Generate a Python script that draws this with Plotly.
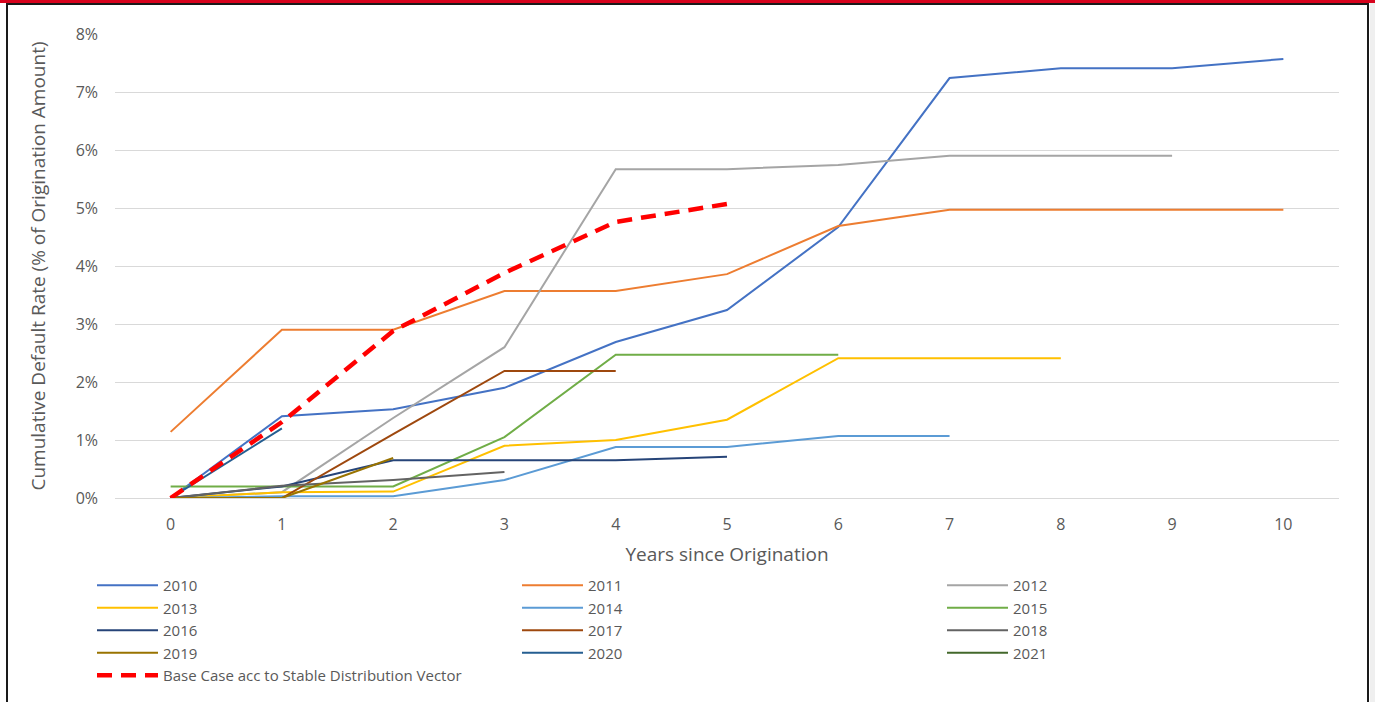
import plotly.graph_objects as go

# Years since origination (category positions on the x axis)
years = list(range(11))

# Cumulative default rates per origination vintage (fraction of origination amount)
vintage_2010 = [0.0000, 0.0141, 0.0153, 0.0190, 0.0269, 0.0324, 0.0467, 0.0724, 0.0741, 0.0741, 0.0757]
vintage_2011 = [0.0114, 0.0290, 0.0290, 0.0357, 0.0357, 0.0386, 0.0469, 0.0497, 0.0497, 0.0497, 0.0497]
vintage_2012 = [0.0000, 0.0010, 0.0138, 0.0260, 0.0567, 0.0567, 0.0574, 0.0590, 0.0590, 0.0590]
vintage_2013 = [0.0000, 0.0010, 0.0011, 0.0090, 0.0100, 0.0135, 0.0241, 0.0241, 0.0241]
vintage_2014 = [0.0000, 0.0003, 0.0003, 0.0031, 0.0088, 0.0088, 0.0107, 0.0107]
vintage_2015 = [0.0020, 0.0020, 0.0020, 0.0105, 0.0247, 0.0247, 0.0247]
vintage_2016 = [0.0000, 0.0020, 0.0065, 0.0065, 0.0065, 0.0071]
vintage_2017 = [0.0000, 0.0000, 0.0110, 0.0219, 0.0219]
vintage_2018 = [0.0000, 0.0021, 0.0031, 0.0045]
vintage_2019 = [0.0000, 0.0000, 0.0069]
vintage_2020 = [0.0000, 0.0120]
vintage_2021 = [0.0000]
base_case = [0.0000, 0.0131, 0.0288, 0.0388, 0.0476, 0.0507]

series = [
    ("2010", vintage_2010, "#4472C4"),
    ("2011", vintage_2011, "#ED7D31"),
    ("2012", vintage_2012, "#A5A5A5"),
    ("2013", vintage_2013, "#FFC000"),
    ("2014", vintage_2014, "#5B9BD5"),
    ("2015", vintage_2015, "#70AD47"),
    ("2016", vintage_2016, "#264478"),
    ("2017", vintage_2017, "#9E480E"),
    ("2018", vintage_2018, "#636363"),
    ("2019", vintage_2019, "#997300"),
    ("2020", vintage_2020, "#255E91"),
    ("2021", vintage_2021, "#43682B"),
]

FONT = "Open Sans"
TEXT = "#595959"
GRID = "#D9D9D9"

fig = go.Figure()
for name, vals, color in series:
    fig.add_trace(go.Scatter(
        x=years[:len(vals)], y=vals, name=name, mode="lines",
        line=dict(color=color, width=2),
    ))

fig.add_trace(go.Scatter(
    x=years[:len(base_case)], y=base_case,
    name="Base Case acc to Stable Distribution Vector", mode="lines",
    line=dict(color="#FF0000", width=4.5, dash="15px,9px"),
))

W, H = 1375, 702
L, R, T, B = 115, 36, 34, 204
pw, ph = W - L - R, H - T - B


def px(x):
    return (x - L) / pw


def py(y):
    return (H - B - y) / ph


shapes = [
    # outer frame
    dict(type="rect", xref="paper", yref="paper",
         x0=px(7), x1=px(1368), y0=py(720), y1=py(4),
         line=dict(color="#1a1a1a", width=2), fillcolor="rgba(0,0,0,0)", layer="below"),
    # red band along the top edge
    dict(type="rect", xref="paper", yref="paper",
         x0=px(0), x1=px(1375), y0=py(3), y1=py(-2),
         line=dict(width=0), fillcolor="#D7031D", layer="above"),
    # neighbouring area right of the frame
    dict(type="rect", xref="paper", yref="paper",
         x0=px(1370), x1=px(1380), y0=py(720), y1=py(3),
         line=dict(width=0), fillcolor="#EFEFEF", layer="below"),
]

fig.update_layout(
    width=W, height=H,
    margin=dict(l=L, r=R, t=T, b=B, autoexpand=False),
    paper_bgcolor="white", plot_bgcolor="white",
    font=dict(family=FONT, color=TEXT, size=15),
    shapes=shapes,
    xaxis=dict(
        range=[-0.5, 10.5], tickmode="linear", tick0=0, dtick=1,
        showgrid=False, showline=True, linecolor=GRID, linewidth=1,
        zeroline=False, ticks="", ticklabelstandoff=12, automargin=False,
        tickfont=dict(size=16, color=TEXT),
        title=dict(text="Years since Origination", font=dict(size=19, color=TEXT), standoff=13),
    ),
    yaxis=dict(
        range=[0, 0.08], tickmode="linear", tick0=0, dtick=0.01, tickformat=".0%",
        showgrid=True, gridcolor=GRID, gridwidth=1, zeroline=False,
        showline=False, ticks="", ticklabelstandoff=16, automargin=False,
        tickfont=dict(size=16, color=TEXT),
        title=dict(text="Cumulative Default Rate (% of Origination Amount)",
                   font=dict(size=19, color=TEXT), standoff=24),
    ),
    legend=dict(
        orientation="h", x=px(92), y=py(569), xanchor="left", yanchor="top",
        entrywidth=349, entrywidthmode="pixels", itemwidth=61,
        font=dict(size=15, color=TEXT), traceorder="normal",
        bgcolor="rgba(0,0,0,0)",
    ),
    showlegend=True,
)

fig.write_html("out.html")
